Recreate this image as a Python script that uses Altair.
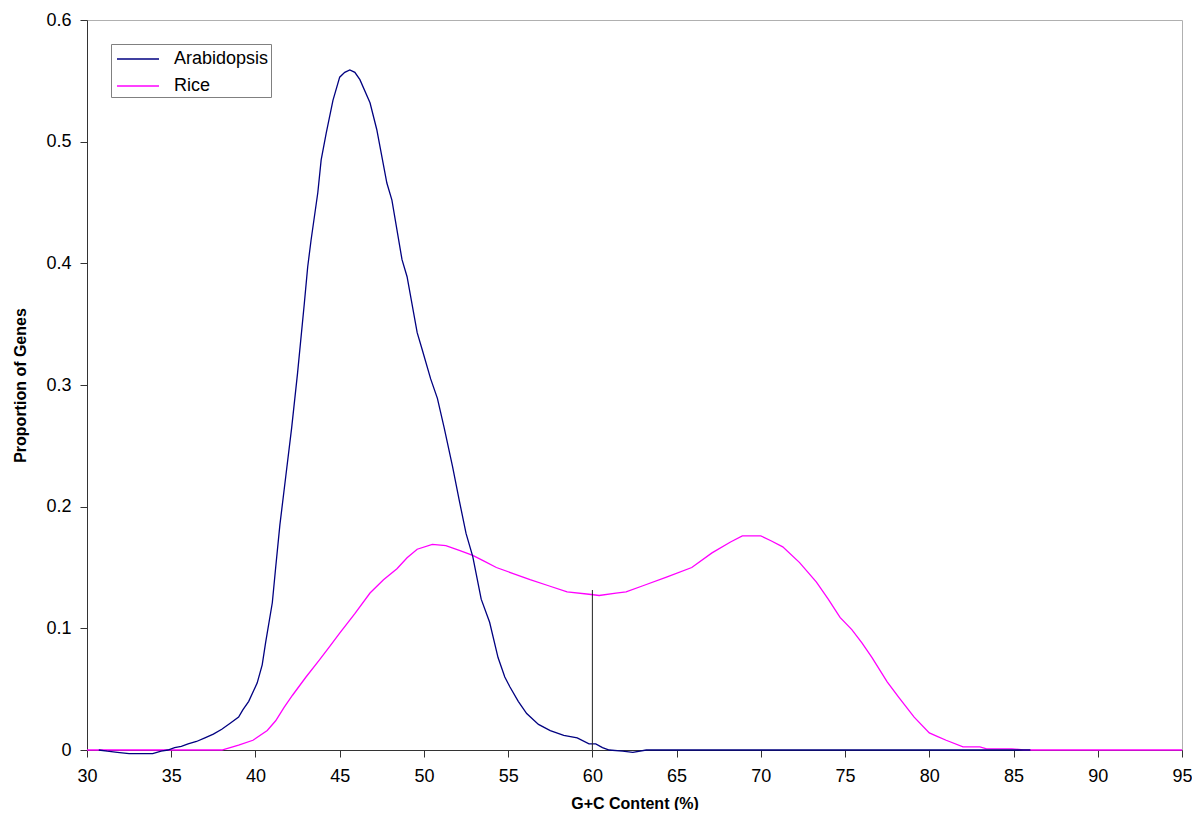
import altair as alt
import pandas as pd

# ---- data ----
ara_gc = [30.7, 31.2, 31.8, 32.5, 33.3, 33.9, 34.4, 34.8, 35.2, 35.6, 36.0, 36.5, 37.0, 37.5,
          38.0, 38.5, 39.0, 39.25, 39.6, 40.1, 40.4, 40.6, 41.0, 41.2, 41.45, 41.8, 42.15, 42.5,
          42.9, 43.1, 43.3, 43.7, 43.9, 44.2, 44.6, 45.0, 45.3, 45.6, 45.9, 46.2, 46.8, 47.2,
          47.8, 48.1, 48.7, 49.0, 49.6, 49.9, 50.4, 50.8, 51.2, 51.7, 52.1, 52.5, 52.9, 53.4,
          53.9, 54.4, 54.8, 55.1, 55.6, 56.1, 56.8, 57.5, 58.3, 59.1, 59.8, 60.2, 60.6, 61.0,
          61.8, 62.4, 63.2, 86.0]
ara_prop = [0.0, -0.001, -0.002, -0.003, -0.003, -0.003, -0.001, 0.0, 0.002, 0.003, 0.005, 0.007,
            0.010, 0.013, 0.017, 0.022, 0.027, 0.033, 0.040, 0.055, 0.070, 0.088, 0.121, 0.150,
            0.185, 0.225, 0.265, 0.310, 0.367, 0.397, 0.419, 0.458, 0.485, 0.507, 0.534, 0.553,
            0.557, 0.559, 0.557, 0.551, 0.532, 0.510, 0.466, 0.452, 0.403, 0.389, 0.343, 0.329,
            0.305, 0.289, 0.265, 0.233, 0.205, 0.178, 0.159, 0.124, 0.105, 0.076, 0.060, 0.052,
            0.040, 0.030, 0.021, 0.016, 0.012, 0.0099, 0.005, 0.005, 0.002, 0.0, -0.001, -0.002,
            0.0, 0.0]

rice_gc = [30.0, 38.0, 38.5, 39.0, 39.85, 40.7, 41.2, 41.7, 42.2, 43.0, 43.8, 44.4, 45.0, 45.9,
           46.8, 47.6, 48.4, 49.0, 49.6, 50.5, 51.3, 52.1, 52.9, 53.6, 54.3, 55.3, 56.3, 57.4,
           58.5, 59.8, 60.4, 61.4, 62.0, 63.0, 64.4, 65.9, 67.1, 68.2, 68.9, 70.0, 70.6, 71.3,
           72.3, 73.3, 74.0, 74.7, 75.4, 76.0, 76.6, 77.5, 78.2, 79.1, 80.0, 80.5, 81.0, 82.0,
           83.0, 83.4, 84.9, 85.6, 95.0]
rice_prop = [0.0, 0.0, 0.002, 0.004, 0.008, 0.016, 0.024, 0.035, 0.045, 0.060, 0.074, 0.085,
             0.096, 0.112, 0.129, 0.140, 0.149, 0.158, 0.165, 0.169, 0.168, 0.164, 0.160, 0.155,
             0.150, 0.145, 0.140, 0.135, 0.130, 0.128, 0.127, 0.129, 0.130, 0.135, 0.142, 0.150,
             0.162, 0.171, 0.176, 0.176, 0.172, 0.167, 0.154, 0.138, 0.124, 0.109, 0.099, 0.088,
             0.076, 0.056, 0.043, 0.027, 0.014, 0.011, 0.008, 0.0025, 0.0025, 0.001, 0.001, 0.0,
             0.0]

marker_gc = [60.0]
marker_bottom = [0.0]
marker_top = [0.1315]

series_names = ["Arabidopsis", "Rice"]
series_colors = ["#000080", "#FF00FF"]
x_ticks = [30, 35, 40, 45, 50, 55, 60, 65, 70, 75, 80, 85, 90, 95]
y_ticks = [0, 0.1, 0.2, 0.3, 0.4, 0.5, 0.6]

ara = pd.DataFrame({"gc": ara_gc, "prop": ara_prop, "series": series_names[0]})
rice = pd.DataFrame({"gc": rice_gc, "prop": rice_prop, "series": series_names[1]})
marker = pd.DataFrame({"gc": marker_gc, "prop": marker_bottom, "prop_top": marker_top})

FONT = "Liberation Sans"

x_enc = alt.X("gc:Q",
              scale=alt.Scale(domain=[30, 95], nice=False, zero=False),
              axis=alt.Axis(values=x_ticks, title="G+C Content (%)", grid=False,
                            labelFlush=False, labelPadding=10, titlePadding=10))
y_enc = alt.Y("prop:Q",
              scale=alt.Scale(domain=[0, 0.6], nice=False),
              axis=alt.Axis(values=y_ticks, format=".1~f", title="Proportion of Genes",
                            grid=False, labelFlush=False, labelPadding=9, titlePadding=17))
color_enc = alt.Color("series:N",
                      scale=alt.Scale(domain=series_names, range=series_colors),
                      legend=alt.Legend(title=None, orient="none", legendX=24, legendY=24,
                                        fillColor="white", strokeColor="#808080",
                                        padding=2, symbolType="M-1.75,0H1.75",
                                        symbolSize=576, symbolStrokeWidth=1.3,
                                        symbolOffset=12, labelOffset=23, rowPadding=5,
                                        labelFont=FONT, labelFontSize=18,
                                        labelColor="black"))

rice_line = alt.Chart(rice).mark_line(strokeWidth=1.3, clip=False).encode(
    x=x_enc, y=y_enc, color=color_enc)
ara_line = alt.Chart(ara).mark_line(strokeWidth=1.3, clip=False).encode(
    x=x_enc, y=y_enc, color=color_enc)
rule = alt.Chart(marker).mark_rule(color="#222222", strokeWidth=1).encode(
    x=x_enc, y=y_enc, y2=alt.Y2("prop_top:Q"))

chart = alt.layer(rice_line, ara_line, rule).properties(
    width=1095, height=730,
    autosize=alt.AutoSizeParams(type="none"),
    padding={"left": 79, "top": 12, "right": 10, "bottom": 60},
    background="white",
).configure_view(
    stroke="#b0b0b0", strokeWidth=1
).configure_axis(
    domainColor="#333333", tickColor="#333333", tickSize=7,
    labelFont=FONT, labelFontSize=18, labelColor="black",
    titleFont=FONT, titleFontSize=16, titleFontWeight="bold", titleColor="black",
)

chart.save("out.html", embed_options={"renderer": "svg", "actions": False})
